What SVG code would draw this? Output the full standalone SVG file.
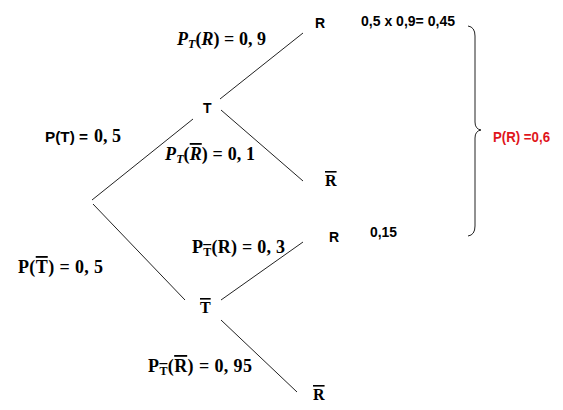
<svg xmlns="http://www.w3.org/2000/svg" width="563" height="410" viewBox="0 0 563 410">
<style>
.s{font-family:"Liberation Sans",Arial,sans-serif;font-weight:bold;font-size:14px;fill:#000}
.m{font-family:"Liberation Serif","Times New Roman",serif;font-weight:bold;font-size:18px;fill:#000}
.n{font-family:"Liberation Serif","Times New Roman",serif;font-weight:bold;font-size:16px;fill:#000}
.i{font-style:italic}
.sub{font-size:12px}
.ov{text-decoration:overline}
.edge{stroke:#222;stroke-width:1;fill:none}
.red{fill:#e0151b}
</style>
<rect width="563" height="410" fill="#fff"/>
<g id="connectors">
<line class="edge" x1="92" y1="200" x2="193" y2="119"/>
<line class="edge" x1="93" y1="204" x2="185" y2="300"/>
<line class="edge" x1="220" y1="99" x2="303" y2="33"/>
<line class="edge" x1="221" y1="110" x2="303" y2="181"/>
<line class="edge" x1="221" y1="300" x2="303" y2="242"/>
<line class="edge" x1="221" y1="320" x2="297" y2="392"/>
<path class="edge" d="M468,26 Q475,27 475,36 L475,122 Q475,129 481,130 Q475,131 475,138 L475,226 Q475,235 468,236"/>
</g>
<g id="edge-labels">
<text class="m" x="177" y="45" textLength="89" lengthAdjust="spacing"><tspan class="i">P</tspan><tspan class="i sub" dy="3">T</tspan><tspan dy="-3">(</tspan><tspan class="i">R</tspan><tspan>) = 0, 9</tspan></text>
<text class="s" x="45" y="142" textLength="43" lengthAdjust="spacingAndGlyphs">P(T) =</text>
<text class="m" x="94" y="142">0, 5</text>
<text class="m" x="165" y="160" textLength="90" lengthAdjust="spacing"><tspan class="i">P</tspan><tspan class="i sub" dy="3">T</tspan><tspan dy="-3">(</tspan><tspan class="i ov">R</tspan><tspan>) = 0, 1</tspan></text>
<text class="m" x="18" y="273" textLength="85" lengthAdjust="spacing">P(<tspan class="ov">T</tspan>) = 0, 5</text>
<text class="m" x="192" y="253" textLength="93" lengthAdjust="spacing">P<tspan class="sub ov" dy="3">T</tspan><tspan dy="-3">(R) = 0, 3</tspan></text>
<text class="m" x="148" y="372" textLength="104" lengthAdjust="spacing">P<tspan class="sub ov" dy="3">T</tspan><tspan dy="-3">(</tspan><tspan class="ov">R</tspan><tspan>) = 0, 95</tspan></text>
</g>
<g id="root"></g>
<g id="node-T"><text class="s" x="203" y="113">T</text></g>
<g id="node-R1"><text class="s" x="315" y="28">R</text></g>
<g id="node-Rbar1"><text class="n ov" x="325" y="186">R</text></g>
<g id="node-Tbar"><text class="n ov" x="200" y="313">T</text></g>
<g id="node-R2"><text class="s" x="329" y="242">R</text></g>
<g id="node-Rbar2"><text class="n ov" x="313" y="400">R</text></g>
<g id="results">
<text class="s" x="361" y="26" textLength="94" lengthAdjust="spacingAndGlyphs">0,5 x 0,9= 0,45</text>
<text class="s" x="370" y="237" textLength="27" lengthAdjust="spacingAndGlyphs">0,15</text>
<text class="s red" x="493" y="142" textLength="57" lengthAdjust="spacingAndGlyphs">P(R) =0,6</text>
</g>
</svg>
